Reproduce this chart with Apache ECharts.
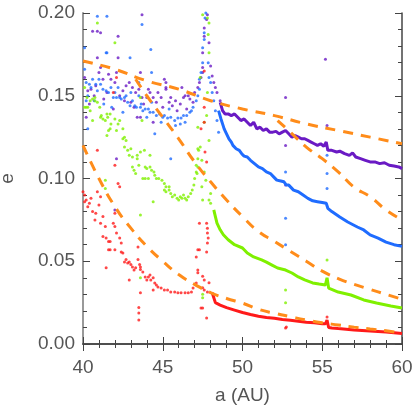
<!DOCTYPE html>
<html>
<head>
<meta charset="utf-8">
<script src="https://cdn.jsdelivr.net/npm/echarts@6/dist/echarts.min.js"></script>
<style>
  html, body { margin: 0; padding: 0; background: #fff; }
  #chart { width: 415px; height: 415px; }
</style>
</head>
<body>
<div id="chart"></div>
<script>
// [a (AU), e] pairs
const purpleScatter = [
  [40.1,0.161],[40.3,0.153],[40.5,0.154],[40.8,0.156],[40.9,0.173],[41.1,0.167],[41.0,0.164],[41.25,0.160],
  [41.6,0.163],[41.75,0.160],[42.0,0.158],[42.1,0.164],[42.2,0.173],[42.5,0.153],[42.7,0.156],[42.9,0.158],
  [43.1,0.155],[43.3,0.152],[43.5,0.154],[43.7,0.149],[43.6,0.137],[44.0,0.149],[44.1,0.154],[44.2,0.152],
  [44.4,0.149],[44.6,0.146],[44.9,0.149],[45.2,0.154],[45.2,0.158],[45.4,0.146],[45.5,0.149],[45.6,0.144],
  [45.8,0.147],[46.1,0.145],[46.3,0.149],[46.4,0.150],[46.6,0.150],[46.7,0.148],[47.0,0.152],[47.2,0.155],
  [47.3,0.158],[47.4,0.161],[47.5,0.164],[40.4,0.145],[40.7,0.150],[41.3,0.148],[41.5,0.152],[42.3,0.150],
  [42.6,0.147],[43.0,0.146],[43.8,0.145],[44.7,0.152],[45.0,0.143],[45.9,0.141],[46.2,0.155],[46.9,0.146],
  [41.9,0.142],[43.2,0.143],[46.5,0.142],
  [47.5,0.167],[47.5,0.176],[47.6,0.186],[47.6,0.191],[47.75,0.196],[47.8,0.199],[47.9,0.182],[48.0,0.168],
  [48.1,0.162],[48.2,0.158],[48.3,0.155],[48.4,0.152],[48.6,0.147],
  [40.6,0.189],[40.9,0.189],[41.1,0.188],[42.2,0.186],[43.7,0.199],[43.6,0.164],[45.1,0.160],[45.2,0.155],
  [44.4,0.134],[43.4,0.137],[40.2,0.137],[42.1,0.112],[42.0,0.081],
  [52.7,0.149],[52.7,0.120],[52.7,0.096],[55.2,0.172],[55.3,0.132]
];
const purpleTrack = [
  [48.6,0.146],[48.75,0.141],[48.9,0.139],[49.1,0.139],[49.3,0.138],[49.5,0.139],[49.7,0.137],[49.9,0.135],
  [50.1,0.136],[50.3,0.134],[50.5,0.132],[50.7,0.134],[50.9,0.130],[51.1,0.131],[51.3,0.129],[51.5,0.130],
  [51.7,0.128],[51.9,0.128],[52.1,0.1285],[52.3,0.127],[52.5,0.128],[52.7,0.129],[52.9,0.127],[53.1,0.125],
  [53.3,0.126],[53.5,0.125],[53.7,0.124],[53.9,0.124],[54.1,0.123],[54.3,0.122],[54.5,0.121],[54.7,0.120],
  [54.9,0.121],[55.1,0.1195],[55.25,0.122],[55.35,0.117],[55.6,0.117],[55.9,0.116],[56.1,0.1165],[56.4,0.115],
  [56.7,0.114],[56.9,0.1155],[57.1,0.113],[57.4,0.112],[57.7,0.111],[58.0,0.110],[58.3,0.110],[58.6,0.109],
  [58.9,0.1095],[59.2,0.108],[59.5,0.1075],[59.8,0.107],[60,0.106]
];

const blueScatter = [
  [40.1,0.166],[40.2,0.158],[40.4,0.157],[40.5,0.155],[40.6,0.160],[40.8,0.157],[40.9,0.153],[41.1,0.157],
  [41.25,0.154],[41.45,0.153],[41.6,0.152],[41.75,0.155],[41.9,0.149],[42.0,0.152],[42.1,0.149],[42.3,0.149],
  [42.4,0.148],[42.6,0.149],[42.7,0.150],[42.8,0.146],[42.95,0.144],[43.1,0.147],[43.25,0.144],[43.35,0.143],
  [43.6,0.143],[43.65,0.145],[43.75,0.141],[43.9,0.142],[44.1,0.142],[44.2,0.140],[44.4,0.140],[44.6,0.138],
  [44.8,0.139],[45.0,0.137],[45.1,0.138],[45.3,0.1365],[45.5,0.137],[45.75,0.135],[45.95,0.1365],[46.15,0.1365],
  [46.3,0.138],[46.5,0.138],[46.7,0.140],[46.8,0.141],[46.9,0.143],[47.1,0.147],[47.2,0.150],[47.3,0.154],
  [40.3,0.150],[40.7,0.147],[41.0,0.160],[41.3,0.145],[42.2,0.155],[42.5,0.140],[43.0,0.152],[43.5,0.150],
  [44.0,0.137],[44.3,0.146],[44.9,0.134],[45.4,0.142],[45.8,0.132],[46.1,0.133],[46.4,0.134],[40.2,0.147],
  [41.8,0.143],
  [40.1,0.179],[41.45,0.176],[42.95,0.173],[44.25,0.178],[40.9,0.198],[41.5,0.198],[41.5,0.176],[43.7,0.193],
  [44.3,0.164],[43.5,0.158],[40.3,0.130],[44.5,0.127],[45.5,0.112],
  [47.3,0.160],[47.4,0.164],[47.5,0.170],[47.5,0.179],[47.6,0.184],[47.6,0.188],[47.65,0.197],[47.7,0.200],
  [47.85,0.170],[47.9,0.161],[48.0,0.158],[48.1,0.152],[48.2,0.147],[48.3,0.141],[48.4,0.135],[48.5,0.128],
  [52.7,0.104],[52.7,0.076],[52.7,0.060],[55.3,0.103],[55.3,0.094],[55.3,0.114]
];
const blueTrack = [
  [48.5,0.141],[48.65,0.136],[48.75,0.133],[48.85,0.130],[49.0,0.127],[49.15,0.124],[49.3,0.122],[49.4,0.120],
  [49.6,0.118],[49.8,0.117],[49.95,0.115],[50.1,0.1135],[50.3,0.113],[50.5,0.111],[50.75,0.109],[51.0,0.107],
  [51.25,0.106],[51.5,0.104],[51.75,0.103],[51.95,0.101],[52.15,0.099],[52.4,0.0985],[52.6,0.098],[52.75,0.096],
  [52.9,0.096],[53.2,0.093],[53.5,0.092],[53.8,0.090],[54.1,0.088],[54.4,0.0865],[54.7,0.086],[55.0,0.0855],
  [55.25,0.085],[55.35,0.082],[55.6,0.080],[56.1,0.0767],[56.6,0.0737],[57.2,0.0707],[57.6,0.0689],[58.0,0.0659],
  [58.5,0.064],[59.0,0.0616],[59.5,0.060],[60,0.059]
];

const greenScatter = [
  [40.1,0.155],[40.25,0.149],[40.1,0.143],[40.3,0.143],[40.45,0.147],[40.6,0.148],[40.75,0.147],[40.9,0.146],
  [41.05,0.143],[41.5,0.139],[41.55,0.137],[42.0,0.136],[41.1,0.137],[41.25,0.136],[41.7,0.139],[41.7,0.130],
  [42.3,0.135],[42.5,0.130],[42.6,0.125],[41.5,0.126],[40.75,0.149],[40.2,0.143],[40.45,0.141],[40.6,0.135],
  [41.15,0.138],[41.4,0.135],[41.75,0.133],[42.1,0.129],[42.2,0.133],[41.6,0.129],[42.5,0.124],[42.7,0.123],
  [42.6,0.119],[42.8,0.117],[43.0,0.118],[42.9,0.114],[43.1,0.113],[43.4,0.114],[43.6,0.116],[43.85,0.117],
  [44.2,0.114],[43.9,0.107],[44.0,0.106],[44.2,0.107],[44.3,0.105],[44.45,0.104],[44.5,0.102],[44.6,0.100],
  [44.75,0.100],[44.95,0.099],[45.1,0.097],[45.2,0.095],[45.4,0.095],[41.4,0.099],[41.4,0.094],
  [43.1,0.107],[43.2,0.105],[43.3,0.103],[43.4,0.112],[43.5,0.108],[43.75,0.100],[43.9,0.100],[44.1,0.100],
  [45.1,0.093],[45.2,0.092],[45.4,0.093],[45.5,0.091],[45.6,0.089],[45.75,0.090],[45.9,0.088],[46.0,0.087],
  [46.1,0.089],[46.2,0.088],[46.3,0.090],[46.4,0.088],[46.5,0.087],[46.6,0.089],[46.75,0.091],[46.85,0.093],
  [46.95,0.096],[47.0,0.100],[47.1,0.104],[47.1,0.108],[47.2,0.112],[47.25,0.117],[47.35,0.119],[44.4,0.086],
  [43.6,0.078],
  [47.5,0.199],[47.8,0.197],[47.9,0.194],[47.85,0.187],[47.9,0.176],[47.35,0.161],[47.8,0.152],[47.75,0.138],
  [47.2,0.131],[43.7,0.135],[43.6,0.149],[47.6,0.134],[47.9,0.123],[47.2,0.118],[47.45,0.111],[47.2,0.107],
  [47.15,0.103],[47.6,0.104],[47.7,0.099],[47.45,0.095],[47.5,0.087],[48.0,0.091],[47.9,0.087],[48.0,0.085],
  [47.5,0.028],[43.6,0.040],[47.5,0.030],[40.9,0.194],[42.0,0.182],
  [52.7,0.0326],[52.7,0.025],[55.3,0.0508]
];
const greenTrack = [
  [48.2,0.081],[48.3,0.077],[48.4,0.073],[48.6,0.069],[48.8,0.066],[49.1,0.063],[49.5,0.060],[50.0,0.058],
  [50.3,0.055],[50.7,0.0526],[51.2,0.0508],[51.5,0.0495],[51.85,0.0477],[52.2,0.0459],[52.7,0.0447],[53.1,0.0429],
  [53.5,0.0405],[53.9,0.0387],[54.4,0.0369],[54.8,0.0362],[55.2,0.0357],[55.3,0.040],[55.4,0.0338],[56.0,0.0314],
  [56.8,0.0296],[57.6,0.0266],[58.4,0.0248],[59.3,0.023],[60,0.0218]
];

const redScatter = [
  [40.0,0.092],[40.1,0.090],[40.2,0.087],[40.1,0.086],[40.4,0.085],[40.3,0.083],[40.5,0.088],[40.6,0.080],
  [40.8,0.079],[40.75,0.075],[40.9,0.092],[41.1,0.089],[41.0,0.084],[41.25,0.077],[41.1,0.073],[41.4,0.071],
  [41.25,0.065],[41.45,0.064],[41.6,0.062],[41.7,0.062],[41.45,0.046],[41.6,0.057],[41.7,0.057],[41.9,0.073],
  [42.0,0.071],[42.0,0.079],[42.1,0.067],[42.0,0.057],[42.2,0.097],[42.3,0.095],[42.3,0.064],[42.4,0.061],
  [42.4,0.0556],[42.5,0.055],[42.6,0.0495],[42.7,0.051],[42.8,0.049],[42.9,0.0495],[43.0,0.048],[43.1,0.0465],
  [43.2,0.0447],[43.3,0.046],[43.45,0.051],[43.55,0.048],[43.6,0.0465],[43.75,0.0435],[42.9,0.0387],[43.45,0.0586],
  [43.6,0.045],[43.6,0.031],[43.5,0.022],[43.5,0.0187],[43.5,0.0145],[43.9,0.0405],[44.1,0.0405],[44.2,0.0417],
  [44.0,0.0387],[44.25,0.0387],[44.4,0.040],[44.5,0.0369],[44.6,0.0357],[44.4,0.0326],[44.7,0.0344],[44.9,0.0338],
  [45.1,0.0326],[45.3,0.0326],[45.5,0.0314],[45.75,0.0314],[45.95,0.031],[46.15,0.031],[46.4,0.031],[46.6,0.031],
  [46.8,0.0314],[46.9,0.0338],[47.1,0.0369],[47.2,0.0447],[47.3,0.057],[47.3,0.073],[47.4,0.0218],
  [40.9,0.117],[42.0,0.108],[41.9,0.152],[42.1,0.161],[47.4,0.130],
  [47.6,0.165],[47.6,0.143],[47.6,0.134],[47.65,0.116],[47.75,0.110],[47.75,0.073],[47.8,0.070],[47.8,0.067],
  [47.85,0.064],[47.8,0.061],[47.2,0.057],[47.75,0.0556],[47.1,0.0526],[47.2,0.043],[47.5,0.041],[47.6,0.0387],
  [47.5,0.034],[47.9,0.037],[47.5,0.0218],[47.75,0.0157],[47.6,0.0326],[47.8,0.0314],
  [52.7,0.0097],[52.75,0.0103],[55.3,0.0163]
];
const redTrack = [
  [48.1,0.031],[48.3,0.025],[48.6,0.0235],[49.0,0.022],[49.5,0.0205],[50.0,0.019],[50.5,0.0178],[51.0,0.0168],
  [51.5,0.016],[52.0,0.0155],[52.5,0.0148],[53.0,0.0143],[53.5,0.0138],[54.0,0.0132],[54.5,0.0128],[55.0,0.0123],
  [55.2,0.0122],[55.3,0.0145],[55.4,0.010],[55.6,0.0097],[56.0,0.0093],[56.5,0.0089],[57.0,0.0085],[57.5,0.0082],
  [58.0,0.0078],[58.5,0.0075],[59.0,0.0072],[59.5,0.0068],[60,0.0064]
];

// orange dashed reference curves
const curveTop = [
  [40,0.171],[42,0.166],[44,0.159],[46,0.154],[48,0.147],[50,0.142],[52,0.138],[54,0.133],[56,0.129],[58,0.125],[60,0.121]
];
const curveBlue = [
  [52.2,0.135],[53,0.128],[54,0.119],[55,0.112],[56,0.104],[57,0.0947],[58,0.089],[59,0.081],[60,0.075]
];
const curveGreen = [
  [43.3,0.160],[44,0.150],[45,0.137],[46,0.124],[47,0.110],[48,0.098],[49,0.087],[50,0.077],[51,0.068],[52,0.062],
  [53,0.056],[54,0.050],[55,0.044],[56,0.0395],[57,0.036],[58,0.033],[59,0.030],[60,0.027]
];
const curveRed = [
  [40,0.120],[41,0.100],[42,0.083],[43,0.070],[44,0.059],[45,0.050],[46,0.042],[47,0.036],[48,0.031],[49,0.0275],
  [50,0.0247],[51,0.021],[52,0.0186],[53,0.0165],[54,0.0145],[55,0.0128],[56,0.0115],[57,0.0102],[58,0.0091],
  [59,0.008],[60,0.0066]
];

const purple = '#6a1ac4';
const blue = '#1f6cff';
const green = '#7ff000';
const red = '#ff1a1a';
const orange = '#ff8c1a';

const labelFont = { color: '#555', fontSize: 19, fontFamily: 'Liberation Sans' };

function scatter(data, color) {
  return { type: 'scatter', data, symbol: 'circle', symbolSize: 3, itemStyle: { color }, silent: true };
}
function track(data, color) {
  return { type: 'line', data, showSymbol: false, lineStyle: { color, width: 3 }, silent: true };
}
function dashed(data) {
  return { type: 'line', data, smooth: true, showSymbol: false, z: 5, lineStyle: { color: orange, width: 3, type: [10, 8] }, silent: true };
}

function xAxis(position, showLabels) {
  return {
    type: 'value', position, min: 40, max: 60, interval: 5,
    name: showLabels ? 'a (AU)' : '', nameLocation: 'middle', nameGap: 42, nameTextStyle: labelFont,
    axisLine: { lineStyle: { color: '#444', width: 1.5 } },
    axisTick: { inside: true, length: 7, lineStyle: { color: '#444' } },
    minorTick: { show: true, splitNumber: 5, length: 4, lineStyle: { color: '#444' } },
    axisLabel: { show: showLabels, margin: 14, ...labelFont },
    splitLine: { show: false }
  };
}
function yAxis(position, showLabels) {
  return {
    type: 'value', position, min: 0, max: 0.2, interval: 0.05,
    name: showLabels ? 'e' : '', nameLocation: 'middle', nameGap: 66, nameRotate: 90, nameTextStyle: labelFont,
    axisLine: { lineStyle: { color: showLabels ? '#999' : '#444', width: showLabels ? 2 : 1.5 } },
    axisTick: { inside: true, length: 7, lineStyle: { color: '#444' } },
    minorTick: { show: true, splitNumber: 5, length: 4, lineStyle: { color: '#444' } },
    axisLabel: { show: showLabels, margin: 8, formatter: (v) => v.toFixed(2), ...labelFont },
    splitLine: { show: false }
  };
}

const chart = echarts.init(document.getElementById('chart'), null, { renderer: 'canvas' });
chart.setOption({
  animation: false,
  backgroundColor: '#fff',
  grid: { left: 83, right: 13, top: 13, bottom: 71, outerBoundsMode: 'none' },
  xAxis: [xAxis('bottom', true), xAxis('top', false)],
  yAxis: [yAxis('left', true), yAxis('right', false)],
  series: [
    scatter(purpleScatter, purple),
    scatter(blueScatter, blue),
    scatter(greenScatter, green),
    scatter(redScatter, red),
    track(purpleTrack, purple),
    track(blueTrack, blue),
    track(greenTrack, green),
    track(redTrack, red),
    dashed(curveTop),
    dashed(curveBlue),
    dashed(curveGreen),
    dashed(curveRed)
  ]
});
</script>
</body>
</html>
